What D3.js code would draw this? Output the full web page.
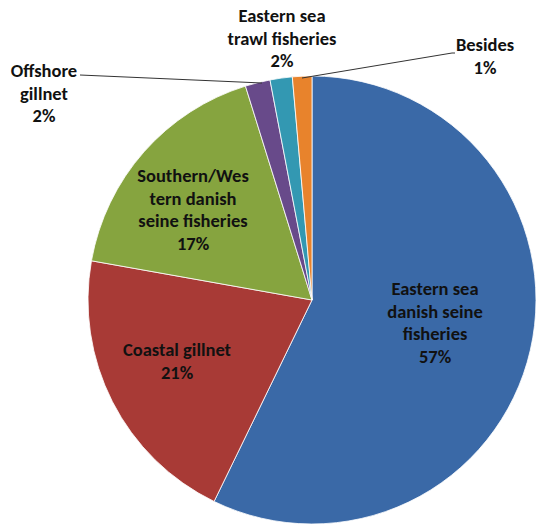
<!DOCTYPE html>
<html>
<head>
<meta charset="utf-8">
<script src="https://cdn.jsdelivr.net/npm/d3@7/dist/d3.min.js"></script>
<style>
  html, body { margin: 0; padding: 0; background: #fff; }
  svg { display: block; }
  text { font-family: Carlito, Lato, "Open Sans", sans-serif; font-weight: bold; font-size: 18.5px; fill: #111; }
</style>
</head>
<body>
<svg id="chart" width="538" height="526"></svg>
<script>
// Catch share by fishery type (percent)
const categories = [
  "Eastern sea danish seine fisheries",
  "Coastal gillnet",
  "Southern/Western danish seine fisheries",
  "Offshore gillnet",
  "Eastern sea trawl fisheries",
  "Besides"
];
const shares = [57.2, 20.6, 17.4, 1.8, 1.6, 1.4];
const colors = ["#3a69a7", "#a83a36", "#86a43f", "#684a8a", "#3398b2", "#e8832c"];

// Wrapped label lines (the percent line is appended from the data)
const labelLines = [
  ["Eastern sea", "danish seine", "fisheries"],
  ["Coastal gillnet"],
  ["Southern/Wes", "tern danish", "seine fisheries"],
  ["Offshore", "gillnet"],
  ["Eastern sea", "trawl fisheries"],
  ["Besides"]
];
// Label block centres (x, y of first line) and optional leader lines
const labelPos = [[435, 291], [177, 352], [193, 178], [44, 73], [282, 18], [485, 47]];
const leaders = [null, null, null, [[80, 75], [262, 83]], null, [[302, 78], [452, 53], [455, 53]]];

const cx = 312, cy = 300, radius = 224;
const svg = d3.select("#chart");
const g = svg.append("g").attr("transform", `translate(${cx},${cy})`);

const pie = d3.pie().sort(null).value(d => d).startAngle(0).endAngle(2 * Math.PI);
const arcs = pie(shares);
const arc = d3.arc().innerRadius(0).outerRadius(radius);

g.selectAll("path.slice")
  .data(arcs)
  .join("path")
  .attr("class", "slice")
  .attr("d", arc)
  .attr("fill", (d, i) => colors[i])
  .attr("stroke", "#ffffff")
  .attr("stroke-width", 0.8);

const total = d3.sum(shares);
const pct = d3.format(".0%");
const lineH = 22.5;

const labels = svg.append("g");
categories.forEach((c, i) => {
  const lines = labelLines[i].concat([pct(shares[i] / total)]);
  const t = labels.append("text")
    .attr("text-anchor", "middle")
    .attr("dominant-baseline", "middle");
  lines.forEach((ln, j) => {
    t.append("tspan")
      .attr("x", labelPos[i][0])
      .attr("y", labelPos[i][1] + j * lineH)
      .text(ln);
  });
  if (leaders[i]) {
    labels.append("path")
      .attr("d", d3.line()(leaders[i]))
      .attr("fill", "none")
      .attr("stroke", "#333")
      .attr("stroke-width", 1);
  }
});
</script>
</body>
</html>
